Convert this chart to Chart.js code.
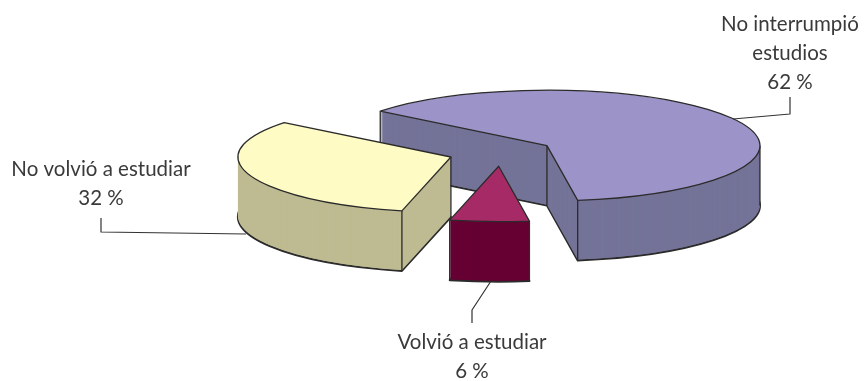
<!DOCTYPE html>
<html>
<head>
<meta charset="utf-8">
<style>
html, body { margin: 0; padding: 0; background: #fff; }
#wrap { width: 864px; height: 381px; }
</style>
<script src="https://cdn.jsdelivr.net/npm/chart.js@4"></script>
</head>
<body>
<div id="wrap"><canvas id="pie"></canvas></div>
<script>
const categories = ['No interrumpió estudios', 'Volvió a estudiar', 'No volvió a estudiar'];
const shares = [62, 6, 32];
const topColors = ['#9c94c8', '#a62a66', '#fffbc4'];
const wallColors = ['#747398', '#660033', '#bebb92'];

// one entry per slice: text lines, centre x, first baseline, leader line
const labelLayout = [
    { lines: ['No interrumpió', 'estudios', '62 %'], x: 790, y: 31, leader: [[733, 119], [790, 114], [790, 97]] },
    { lines: ['Volvió a estudiar', '6 %'], x: 472, y: 349, leader: [[491, 281], [472, 310], [472, 323]] },
    { lines: ['No volvió a estudiar', '32 %'], x: 101, y: 176, leader: [[246, 234], [101, 232], [101, 218]] }
];

const squash = 0.26;
const depth = 60;
// back to front
const drawOrder = [0, 2, 1];

function sliceCentre(arc) {
    const mid = (arc.startAngle + arc.endAngle) / 2;
    const off = arc.options.offset;
    return { x: arc.x + Math.cos(mid) * off, y: arc.y + Math.sin(mid) * off };
}

function rimPoint(arc, angle) {
    const c = sliceCentre(arc);
    return {
        x: c.x + Math.cos(angle) * arc.outerRadius,
        y: arc.y + (c.y - arc.y + Math.sin(angle) * arc.outerRadius) * squash
    };
}

function traceSlice(ctx, arc, drop) {
    const c = sliceCentre(arc);
    ctx.save();
    ctx.translate(0, arc.y + drop);
    ctx.scale(1, squash);
    ctx.translate(0, -arc.y);
    ctx.beginPath();
    ctx.moveTo(c.x, c.y);
    ctx.arc(c.x, c.y, arc.outerRadius, arc.startAngle, arc.endAngle);
    ctx.closePath();
    ctx.restore();
}

function verticalEdges(ctx, arc) {
    const angles = [arc.startAngle, arc.endAngle];
    [0, Math.PI, Math.PI * 2].forEach(a => {
        if (a > arc.startAngle && a < arc.endAngle) angles.push(a);
    });
    ctx.beginPath();
    angles.forEach(a => {
        const p = rimPoint(arc, a);
        ctx.moveTo(p.x, p.y);
        ctx.lineTo(p.x, p.y + depth);
    });
    // the centre corner is hidden when both cut faces point away from the back
    if (Math.sin(arc.startAngle) <= 0 || Math.sin(arc.endAngle) <= 0) {
        const c = sliceCentre(arc);
        const y = arc.y + (c.y - arc.y) * squash;
        ctx.moveTo(c.x, y);
        ctx.lineTo(c.x, y + depth);
    }
    ctx.stroke();
}

const pie3d = {
    id: 'pie3d',
    beforeDatasetsDraw(chart) {
        const ctx = chart.ctx;
        const arcs = chart.getDatasetMeta(0).data;
        ctx.save();
        ctx.lineJoin = 'round';
        ctx.strokeStyle = '#2b2b2b';
        drawOrder.forEach(i => {
            const arc = arcs[i];
            ctx.fillStyle = wallColors[i];
            traceSlice(ctx, arc, depth);
            ctx.fill();
            ctx.lineWidth = 2;
            ctx.stroke();
            for (let d = depth - 1; d > 0; d--) {
                traceSlice(ctx, arc, d);
                ctx.fill();
            }
            ctx.lineWidth = 1.3;
            verticalEdges(ctx, arc);
            traceSlice(ctx, arc, 0);
            ctx.fillStyle = topColors[i];
            ctx.fill();
            ctx.stroke();
        });

        ctx.textAlign = 'center';
        ctx.textBaseline = 'alphabetic';
        ctx.font = '20.5px Lato';
        labelLayout.forEach(l => {
            ctx.strokeStyle = '#333';
            ctx.lineWidth = 1.2;
            ctx.beginPath();
            l.leader.forEach((p, k) => k ? ctx.lineTo(p[0], p[1]) : ctx.moveTo(p[0], p[1]));
            ctx.stroke();
            ctx.fillStyle = '#3a3a3a';
            l.lines.forEach((t, k) => ctx.fillText(t, l.x, l.y + k * 29));
        });
        ctx.restore();
        return false;
    }
};

new Chart(document.getElementById('pie'), {
    type: 'pie',
    data: {
        labels: categories,
        datasets: [{
            data: shares,
            backgroundColor: topColors,
            radius: 213,
            offset: 53,
            rotation: 308.5,
            borderWidth: 0
        }]
    },
    options: {
        responsive: true,
        maintainAspectRatio: false,
        animation: false,
        layout: { padding: { left: 138, bottom: 76 } },
        plugins: {
            legend: { display: false },
            tooltip: { enabled: false }
        }
    },
    plugins: [pie3d]
});
</script>
</body>
</html>
